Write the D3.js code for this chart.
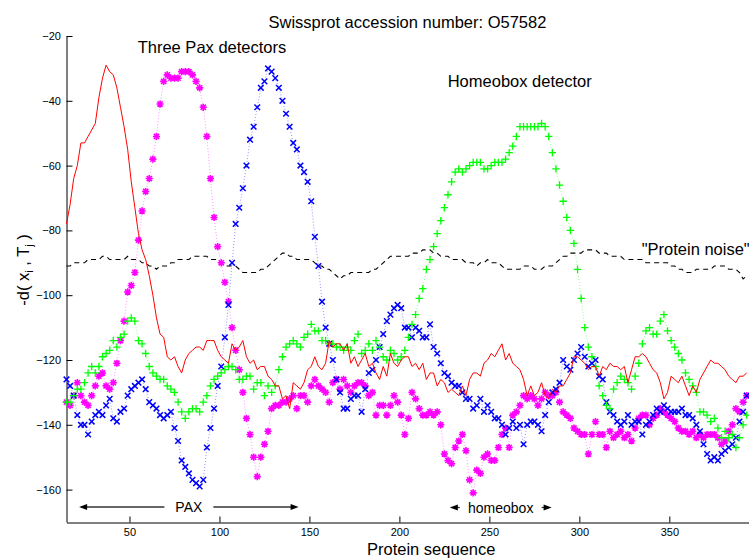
<!DOCTYPE html>
<html>
<head>
<meta charset="utf-8">
<script src="https://cdn.jsdelivr.net/npm/d3@7"></script>
<style>
  body { margin: 0; background: #fff; }
  svg { display: block; font-family: "Liberation Sans", Arial, Helvetica, sans-serif; }
</style>
</head>
<body>
<svg id="chart" width="749" height="559"></svg>
<script>
// Residue positions along the protein sequence (every second residue)
const positions = d3.range(15, 394, 2);

// First Pax detector (red line)
const paxRed = [
  -78,-72,-64,-60,-53,-53,-51,-49,-47,-39,
  -33,-29,-31,-32,-36,-42,-48,-55,-65,-73,
  -81,-86,-89,-94,-100,-107,-112,-113,-119,-120,
  -119,-122,-124,-120,-118,-117,-116,-116,-117,-114,
  -114,-114,-117,-119,-120,-121,-115,-117,-116,-114,
  -119,-121,-120,-123,-122,-122,-125,-126,-128,-128,
  -132,-131,-135,-127,-128,-129,-127,-123,-122,-119,
  -122,-123,-121,-114,-116,-115,-115,-117,-115,-121,
  -119,-122,-120,-118,-122,-121,-124,-126,-122,-125,
  -118,-121,-122,-120,-119,-119,-122,-121,-123,-121,
  -126,-124,-124,-128,-126,-127,-130,-129,-130,-131,
  -128,-131,-126,-124,-124,-125,-121,-120,-118,-119,
  -117,-115,-120,-118,-121,-122,-123,-126,-131,-128,
  -131,-130,-127,-131,-132,-129,-130,-128,-128,-126,
  -124,-119,-119,-120,-121,-123,-122,-122,-125,-122,
  -123,-121,-122,-122,-123,-122,-127,-123,-119,-119,
  -118,-119,-121,-123,-124,-127,-132,-130,-125,-126,
  -127,-125,-128,-131,-128,-130,-126,-124,-122,-120,
  -121,-121,-122,-123,-125,-126,-127,-125,-125,-124
];

// Second Pax detector (magenta asterisks)
const paxMagenta = [
  -133,-134,-131,-127,-131,-133,-134,-131,-128,-125,
  -124,-128,-129,-127,-121,-114,-108,-99,-97,-93,
  -83,-74,-68,-64,-58,-51,-41,-34,-32,-33,
  -33,-33,-31,-31,-31,-32,-34,-36,-42,-51,
  -64,-76,-85,-90,-96,-102,-110,-117,-123,-130,
  -138,-143,-150,-156,-150,-146,-142,-135,-134,-134,
  -133,-133,-132,-131,-135,-131,-131,-133,-128,-126,
  -128,-129,-130,-133,-127,-126,-129,-126,-128,-130,
  -128,-127,-127,-128,-131,-130,-137,-134,-134,-137,
  -134,-131,-133,-137,-143,-138,-130,-132,-135,-137,
  -137,-136,-137,-136,-140,-149,-151,-152,-147,-145,
  -143,-148,-157,-161,-154,-155,-150,-149,-151,-151,
  -147,-143,-141,-147,-137,-136,-134,-131,-132,-131,
  -132,-134,-132,-130,-131,-131,-130,-133,-136,-137,
  -138,-141,-142,-143,-143,-149,-143,-139,-143,-143,
  -147,-142,-144,-143,-142,-144,-143,-145,-141,-138,
  -137,-137,-140,-138,-137,-135,-136,-137,-138,-139,
  -141,-142,-142,-143,-142,-144,-143,-144,-143,-143,
  -143,-144,-146,-145,-142,-140,-135,-136,-133,-131
];

// Third Pax detector (blue crosses)
const paxBlue = [
  -126,-128,-131,-137,-140,-140,-143,-139,-137,-136,
  -137,-134,-132,-138,-139,-136,-135,-131,-129,-128,
  -127,-126,-129,-133,-134,-135,-137,-138,-137,-136,
  -141,-145,-151,-153,-155,-157,-158,-159,-157,-147,
  -141,-135,-128,-122,-113,-103,-90,-78,-73,-67,
  -60,-52,-48,-42,-36,-34,-30,-31,-33,-36,
  -40,-44,-48,-53,-55,-60,-62,-65,-71,-82,
  -91,-102,-110,-115,-120,-126,-130,-135,-135,-132,
  -131,-131,-136,-129,-124,-123,-120,-116,-112,-108,
  -106,-104,-103,-104,-110,-110,-113,-110,-111,-113,
  -113,-109,-116,-118,-121,-124,-125,-127,-128,-128,
  -130,-132,-132,-135,-134,-132,-136,-134,-136,-138,
  -138,-140,-143,-141,-139,-141,-140,-146,-140,-139,
  -139,-140,-142,-137,-133,-130,-129,-127,-120,-122,
  -123,-120,-118,-116,-119,-122,-121,-120,-125,-126,
  -133,-136,-137,-139,-140,-139,-137,-140,-139,-139,
  -143,-140,-139,-137,-135,-136,-134,-135,-136,-136,
  -136,-135,-137,-137,-138,-140,-142,-146,-149,-151,
  -150,-151,-149,-148,-147,-146,-144,-139,-136,-131
];

// Homeobox detector (green plus signs)
const homeobox = [
  -133,-133,-131,-129,-129,-127,-124,-122,-124,-122,
  -119,-118,-117,-114,-116,-113,-112,-108,-107,-108,
  -114,-115,-118,-122,-124,-125,-126,-126,-128,-129,
  -130,-133,-136,-138,-136,-135,-135,-136,-133,-131,
  -128,-126,-125,-124,-123,-122,-122,-123,-126,-126,
  -125,-125,-129,-127,-127,-131,-128,-130,-128,-123,
  -119,-116,-115,-114,-115,-116,-113,-112,-109,-111,
  -111,-114,-114,-115,-115,-116,-116,-117,-116,-117,
  -114,-112,-118,-117,-115,-117,-114,-116,-119,-120,
  -117,-118,-120,-119,-117,-113,-109,-106,-101,-98,
  -92,-89,-85,-81,-77,-73,-69,-65,-62,-61,
  -62,-61,-60,-59,-59,-59,-61,-61,-60,-59,
  -59,-59,-58,-56,-54,-51,-48,-48,-48,-48,
  -48,-48,-47,-48,-51,-56,-61,-66,-71,-76,
  -80,-84,-92,-101,-110,-116,-119,-122,-128,-131,
  -134,-135,-129,-127,-125,-126,-127,-129,-125,-121,
  -115,-111,-110,-112,-112,-108,-106,-111,-114,-116,
  -118,-120,-124,-126,-128,-130,-136,-136,-137,-139,
  -138,-141,-144,-142,-144,-143,-147,-144,-140,-137
];

// "Protein noise" baseline (black dashed)
const proteinNoise = [
  -91,-91,-90,-90,-90,-90,-89,-89,-89,-89,
  -88,-88,-89,-89,-89,-89,-89,-88,-89,-89,
  -89,-90,-90,-91,-91,-92,-91,-91,-91,-90,
  -90,-89,-89,-89,-89,-88,-88,-88,-88,-88,
  -89,-89,-89,-90,-91,-91,-91,-91,-92,-93,
  -93,-93,-93,-93,-92,-92,-91,-90,-89,-88,
  -87,-87,-88,-88,-89,-89,-89,-89,-89,-90,
  -91,-91,-92,-92,-93,-94,-95,-94,-94,-93,
  -93,-93,-93,-93,-93,-92,-92,-91,-90,-89,
  -88,-88,-88,-88,-88,-88,-87,-87,-87,-86,
  -86,-86,-87,-87,-88,-88,-88,-89,-89,-89,
  -89,-90,-90,-90,-91,-90,-90,-89,-90,-90,
  -90,-91,-92,-92,-92,-92,-92,-91,-91,-91,
  -92,-92,-92,-91,-91,-91,-90,-89,-88,-88,
  -87,-87,-87,-87,-86,-86,-86,-86,-87,-87,
  -87,-88,-88,-88,-88,-89,-89,-89,-89,-89,
  -89,-90,-90,-90,-90,-90,-90,-90,-91,-91,
  -92,-92,-93,-93,-93,-92,-92,-92,-92,-92,
  -91,-91,-91,-91,-92,-92,-92,-93,-95,-94
];

const xTicks = [50, 100, 150, 200, 250, 300, 350];
const yTicks = [-160, -140, -120, -100, -80, -60, -40, -20];

// Domain spans marked under the axis (residue numbers)
const paxSpan = [22, 144];
const homeoboxSpan = [228, 284.6];

const svg = d3.select("#chart");
const x = d3.scaleLinear().domain([15, 394]).range([66.5, 748.5]);
const y = d3.scaleLinear().domain([-170, -20]).range([522, 36]);

svg.append("rect").attr("width", 749).attr("height", 559).attr("fill", "#fff");

// Axes with inward ticks
const yAxis = svg.append("g")
  .attr("transform", "translate(66.5,0)")
  .call(d3.axisLeft(y).tickValues(yTicks).tickSizeInner(-6).tickSizeOuter(0).tickPadding(5.5));
const xAxis = svg.append("g")
  .attr("transform", "translate(0,522.5)")
  .call(d3.axisBottom(x).tickValues(xTicks).tickSizeInner(-6).tickSizeOuter(0).tickPadding(6));
[yAxis, xAxis].forEach(g => {
  g.selectAll("text").attr("font-size", 11).attr("fill", "#000")
    .attr("font-family", "'Liberation Sans', Arial, sans-serif");
  g.selectAll("line").attr("stroke", "#000");
  g.select(".domain").attr("stroke", "#000").attr("stroke-width", 1);
});

const lineGen = d3.line()
  .x((d, i) => x(positions[i]))
  .y(d => y(d));

// Noise baseline
svg.append("path")
  .datum(proteinNoise)
  .attr("d", lineGen)
  .attr("fill", "none")
  .attr("stroke", "#000")
  .attr("stroke-width", 1.1)
  .attr("stroke-dasharray", "5,4");

const markerShapes = {
  asterisk: "M-3.6,0H3.6M0,-3.6V3.6M-2.6,-2.6L2.6,2.6M-2.6,2.6L2.6,-2.6",
  cross: "M-2.8,-2.8L2.8,2.8M-2.8,2.8L2.8,-2.8",
  plus: "M-3.7,0H3.7M0,-3.7V3.7"
};

function markerSeries(values, color, shape, width) {
  const g = svg.append("g");
  g.append("path")
    .datum(values)
    .attr("d", lineGen)
    .attr("fill", "none")
    .attr("stroke", color)
    .attr("stroke-width", 0.8)
    .attr("stroke-opacity", 0.55)
    .attr("stroke-dasharray", "1,2");
  g.selectAll("path.mk")
    .data(values)
    .join("path")
    .attr("class", "mk")
    .attr("d", markerShapes[shape])
    .attr("transform", (d, i) => `translate(${x(positions[i])},${y(d)})`)
    .attr("fill", "none")
    .attr("stroke", color)
    .attr("stroke-width", width);
}

markerSeries(paxMagenta, "#ff00ff", "asterisk", 1.6);
markerSeries(paxBlue, "#0000ff", "cross", 1.5);
markerSeries(homeobox, "#00ff00", "plus", 1.3);

// Red detector line on top
svg.append("path")
  .datum(paxRed)
  .attr("d", lineGen)
  .attr("fill", "none")
  .attr("stroke", "#ff0000")
  .attr("stroke-width", 1);

// Text annotations
const font = "'Liberation Sans', Arial, sans-serif";
function label(txt, px, py, size, anchor) {
  return svg.append("text")
    .attr("x", px).attr("y", py)
    .attr("font-size", size)
    .attr("font-family", font)
    .attr("text-anchor", anchor || "start")
    .attr("fill", "#000")
    .text(txt);
}
label("Swissprot accession number: O57582", 268.5, 27.8, 16.5);
label("Three Pax detectors", 137.7, 52.5, 16.5);
label("Homeobox detector", 447.7, 86.8, 16.5);
label("\"Protein noise\"", 641.7, 254.5, 16.5);
label("Protein sequence", 367, 554.5, 16.5);

// Y-axis label with subscripts
const yl = svg.append("text")
  .attr("transform", "translate(29,270) rotate(-90)")
  .attr("text-anchor", "middle")
  .attr("font-size", 16.5)
  .attr("font-family", font)
  .attr("fill", "#000");
yl.append("tspan").text("-d( x");
yl.append("tspan").attr("font-size", 11).attr("dy", 4).text("i");
yl.append("tspan").attr("dy", -4).text(" , T");
yl.append("tspan").attr("font-size", 11).attr("dy", 4).text("j");
yl.append("tspan").attr("dy", -4).text(" )");

// Double-headed span arrows
function arrowHead(tipX, yPos, dir) {
  const len = 8, half = 3;
  svg.append("path")
    .attr("d", `M${tipX},${yPos}L${tipX + dir * len},${yPos - half}L${tipX + dir * len},${yPos + half}Z`)
    .attr("fill", "#000");
}
function spanArrow(span, text, yPos, gap, stem) {
  const x0 = x(span[0]), x1 = x(span[1]);
  const cx = (x0 + x1) / 2;
  const t = label(text, cx, yPos + 5, 14, "middle");
  const w = t.node().getComputedTextLength();
  const leftEnd = stem ? Math.min(x0 + stem, cx - w / 2 - gap) : cx - w / 2 - gap;
  const rightStart = stem ? Math.max(x1 - stem, cx + w / 2 + gap) : cx + w / 2 + gap;
  svg.append("line").attr("x1", x0 + 4).attr("x2", leftEnd).attr("y1", yPos).attr("y2", yPos)
    .attr("stroke", "#333").attr("stroke-width", 1.3);
  svg.append("line").attr("x1", rightStart).attr("x2", x1 - 4).attr("y1", yPos).attr("y2", yPos)
    .attr("stroke", "#333").attr("stroke-width", 1.3);
  arrowHead(x0, yPos, 1);
  arrowHead(x1, yPos, -1);
}
spanArrow(paxSpan, "PAX", 507, 11, 0);
spanArrow(homeoboxSpan, "homeobox", 507.5, 7, 10);
</script>
</body>
</html>
